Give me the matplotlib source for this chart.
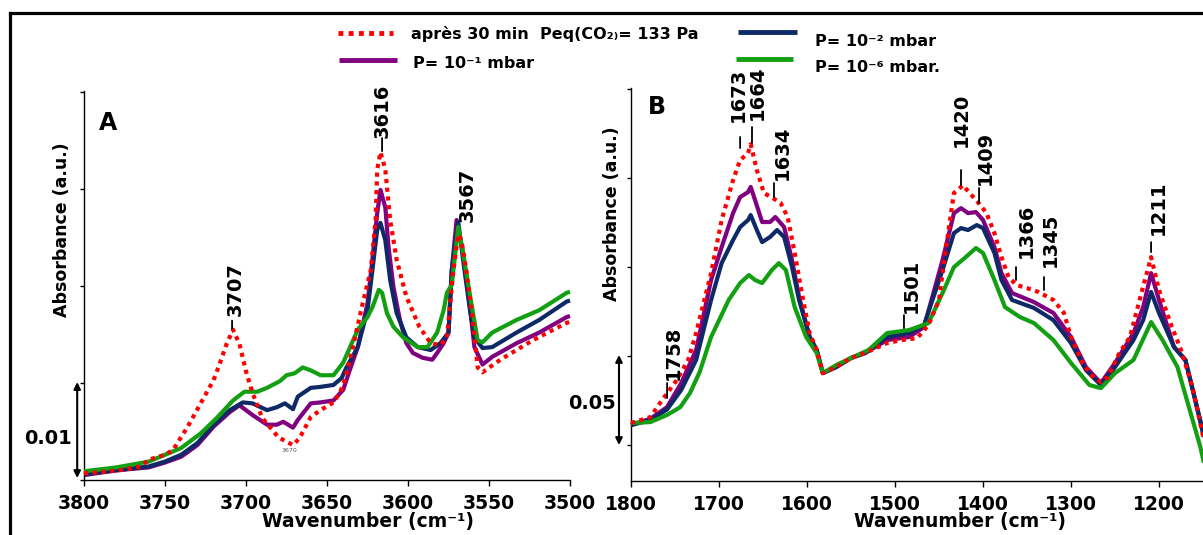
import matplotlib
matplotlib.use('Agg')
import matplotlib.pyplot as plt
from matplotlib.lines import Line2D

plt.rcParams['font.family'] = ['DejaVu Sans']

# ---------------- DATA ----------------
# Panel A (OH region)
a_red_wn = [3800, 3790, 3778, 3765, 3760, 3750, 3745, 3736, 3728, 3720, 3716, 3712, 3708, 3704, 3700, 3696, 3690, 3680, 3671, 3667, 3660, 3654, 3646, 3642, 3639, 3634, 3628, 3623, 3620, 3619, 3617, 3614, 3611, 3607, 3601, 3593, 3586, 3580, 3576, 3572, 3569, 3567, 3564, 3560, 3557, 3554, 3543, 3523, 3502, 3500]
a_red_abs = [0.0007, 0.0008, 0.0010, 0.0014, 0.0021, 0.0026, 0.0031, 0.0055, 0.0079, 0.0103, 0.0121, 0.0140, 0.0155, 0.0140, 0.0112, 0.0090, 0.0064, 0.0044, 0.0036, 0.0043, 0.0065, 0.0072, 0.0080, 0.0090, 0.0103, 0.0137, 0.0182, 0.0216, 0.0268, 0.0320, 0.0338, 0.0320, 0.0268, 0.0227, 0.0189, 0.0158, 0.0141, 0.0139, 0.0147, 0.0216, 0.0253, 0.0247, 0.0216, 0.0165, 0.0116, 0.0111, 0.0124, 0.0144, 0.0162, 0.0163]

a_pur_wn = [3800, 3780, 3760, 3750, 3740, 3730, 3720, 3710, 3704, 3696, 3687, 3681, 3677, 3671, 3668, 3660, 3654, 3646, 3640, 3636, 3631, 3625, 3622, 3619, 3617, 3614, 3612, 3609, 3605, 3601, 3597, 3591, 3585, 3582, 3578, 3575, 3573, 3570, 3566, 3562, 3559, 3554, 3548, 3533, 3519, 3502, 3500]
a_pur_abs = [0.0005, 0.0010, 0.0013, 0.0018, 0.0024, 0.0036, 0.0055, 0.0070, 0.0077, 0.0067, 0.0057, 0.0057, 0.0060, 0.0054, 0.0062, 0.0079, 0.0080, 0.0082, 0.0093, 0.0113, 0.0137, 0.0182, 0.0227, 0.0275, 0.0299, 0.0281, 0.0240, 0.0199, 0.0165, 0.0141, 0.0131, 0.0126, 0.0124, 0.0131, 0.0141, 0.0152, 0.0216, 0.0268, 0.0234, 0.0182, 0.0137, 0.0119, 0.0127, 0.0141, 0.0152, 0.0168, 0.0169]

a_nav_wn = [3800, 3780, 3760, 3750, 3740, 3730, 3720, 3710, 3702, 3696, 3687, 3681, 3676, 3671, 3668, 3660, 3654, 3646, 3641, 3638, 3631, 3625, 3622, 3619, 3617, 3614, 3611, 3607, 3601, 3594, 3586, 3580, 3575, 3573, 3569, 3566, 3562, 3559, 3554, 3548, 3533, 3519, 3502, 3500]
a_nav_abs = [0.0006, 0.0010, 0.0014, 0.0019, 0.0026, 0.0038, 0.0057, 0.0072, 0.0080, 0.0079, 0.0072, 0.0075, 0.0079, 0.0073, 0.0086, 0.0095, 0.0096, 0.0098, 0.0105, 0.0116, 0.0137, 0.0175, 0.0216, 0.0258, 0.0265, 0.0247, 0.0206, 0.0172, 0.0147, 0.0137, 0.0134, 0.0141, 0.0152, 0.0216, 0.0266, 0.0227, 0.0178, 0.0147, 0.0136, 0.0137, 0.0152, 0.0165, 0.0184, 0.0185]

a_grn_wn = [3800, 3780, 3760, 3750, 3740, 3728, 3718, 3708, 3701, 3693, 3687, 3679, 3675, 3670, 3665, 3660, 3654, 3646, 3640, 3631, 3625, 3622, 3618, 3616, 3613, 3609, 3603, 3594, 3588, 3582, 3578, 3576, 3573, 3569, 3566, 3562, 3557, 3554, 3548, 3533, 3519, 3502, 3500]
a_grn_abs = [0.0009, 0.0013, 0.0019, 0.0026, 0.0033, 0.0048, 0.0064, 0.0082, 0.0091, 0.0091, 0.0095, 0.0102, 0.0108, 0.0110, 0.0116, 0.0113, 0.0108, 0.0108, 0.0121, 0.0155, 0.0168, 0.0178, 0.0196, 0.0193, 0.0172, 0.0158, 0.0147, 0.0137, 0.0137, 0.0152, 0.0175, 0.0193, 0.0201, 0.0261, 0.0234, 0.0193, 0.0144, 0.0142, 0.0152, 0.0165, 0.0175, 0.0193, 0.0194]

# Panel B (carbonate region)
b_red_wn = [1800, 1778, 1767, 1748, 1735, 1726, 1709, 1697, 1684, 1676, 1667, 1664, 1657, 1649, 1639, 1630, 1622, 1614, 1605, 1597, 1589, 1582, 1567, 1550, 1534, 1509, 1492, 1475, 1462, 1450, 1442, 1433, 1425, 1423, 1413, 1405, 1396, 1387, 1379, 1371, 1362, 1350, 1337, 1320, 1308, 1300, 1287, 1275, 1266, 1258, 1245, 1233, 1220, 1209, 1200, 1187, 1175, 1162, 1149]
b_red_abs = [0.0124, 0.0157, 0.0236, 0.0365, 0.0478, 0.0629, 0.0966, 0.1264, 0.1489, 0.1601, 0.1640, 0.1690, 0.1545, 0.1416, 0.1388, 0.1360, 0.1281, 0.1079, 0.0831, 0.0629, 0.0534, 0.0404, 0.0438, 0.0489, 0.0517, 0.0573, 0.0590, 0.0600, 0.0674, 0.0815, 0.1112, 0.1416, 0.1450, 0.1460, 0.1404, 0.1360, 0.1303, 0.1190, 0.1056, 0.0944, 0.0899, 0.0882, 0.0860, 0.0815, 0.0742, 0.0607, 0.0461, 0.0382, 0.0354, 0.0382, 0.0517, 0.0607, 0.0854, 0.1056, 0.0871, 0.0685, 0.0534, 0.0326, 0.0028]

b_pur_wn = [1800, 1778, 1759, 1743, 1726, 1709, 1697, 1684, 1676, 1667, 1664, 1659, 1651, 1642, 1636, 1626, 1617, 1609, 1597, 1589, 1582, 1567, 1550, 1534, 1509, 1484, 1467, 1446, 1433, 1425, 1417, 1408, 1400, 1387, 1379, 1367, 1342, 1320, 1300, 1283, 1266, 1250, 1229, 1218, 1209, 1200, 1183, 1170, 1158, 1149]
b_pur_abs = [0.0112, 0.0148, 0.0213, 0.0348, 0.0534, 0.0927, 0.1112, 0.1303, 0.1393, 0.1421, 0.1450, 0.1376, 0.1253, 0.1253, 0.1281, 0.1225, 0.1039, 0.0831, 0.0607, 0.0534, 0.0404, 0.0438, 0.0489, 0.0517, 0.0590, 0.0607, 0.0663, 0.1039, 0.1303, 0.1331, 0.1303, 0.1309, 0.1264, 0.1112, 0.0966, 0.0854, 0.0803, 0.0742, 0.0607, 0.0438, 0.0348, 0.0461, 0.0629, 0.0775, 0.0966, 0.0815, 0.0551, 0.0478, 0.0236, 0.0045]

b_nav_wn = [1800, 1778, 1759, 1743, 1726, 1709, 1697, 1684, 1676, 1667, 1664, 1657, 1651, 1642, 1634, 1626, 1617, 1609, 1597, 1589, 1582, 1567, 1550, 1534, 1509, 1484, 1467, 1446, 1433, 1425, 1417, 1407, 1400, 1387, 1379, 1367, 1342, 1320, 1300, 1283, 1266, 1250, 1229, 1218, 1209, 1200, 1183, 1170, 1158, 1149]
b_nav_abs = [0.0112, 0.0140, 0.0200, 0.0309, 0.0478, 0.0815, 0.1022, 0.1152, 0.1225, 0.1264, 0.1292, 0.1208, 0.1140, 0.1169, 0.1208, 0.1169, 0.1000, 0.0815, 0.0607, 0.0534, 0.0404, 0.0438, 0.0489, 0.0517, 0.0607, 0.0629, 0.0674, 0.0983, 0.1191, 0.1219, 0.1208, 0.1236, 0.1219, 0.1079, 0.0927, 0.0815, 0.0770, 0.0702, 0.0573, 0.0421, 0.0337, 0.0438, 0.0590, 0.0702, 0.0860, 0.0742, 0.0551, 0.0478, 0.0236, 0.0056]

b_grn_wn = [1800, 1778, 1759, 1744, 1733, 1722, 1709, 1689, 1676, 1666, 1659, 1651, 1640, 1632, 1624, 1614, 1601, 1589, 1582, 1567, 1550, 1530, 1509, 1484, 1462, 1446, 1433, 1421, 1408, 1400, 1387, 1375, 1358, 1342, 1320, 1300, 1279, 1266, 1250, 1229, 1209, 1196, 1179, 1166, 1153, 1149]
b_grn_abs = [0.0124, 0.0129, 0.0169, 0.0213, 0.0292, 0.0410, 0.0607, 0.0815, 0.0910, 0.0955, 0.0927, 0.0910, 0.0983, 0.1022, 0.0983, 0.0775, 0.0607, 0.0517, 0.0404, 0.0449, 0.0489, 0.0534, 0.0629, 0.0646, 0.0685, 0.0854, 0.1000, 0.1050, 0.1107, 0.1079, 0.0927, 0.0775, 0.0719, 0.0685, 0.0590, 0.0461, 0.0337, 0.0320, 0.0404, 0.0478, 0.0691, 0.0590, 0.0438, 0.0213, -0.0011, -0.0100]

a_xticks = [3800, 3750, 3700, 3650, 3600, 3550, 3500]
b_xticks = [1800, 1700, 1600, 1500, 1400, 1300, 1200]

# peak labels: (text, wavenumber, absorbance anchor, dash length px, gap px, text dx px)
a_peaks = [("3707", 3708.6, 0.0156, 8, 5, 3),
           ("3616", 3616.0, 0.0339, 13, 0, 0),
           ("3567", 3568.5, 0.0266, 0, 0, 8)]
b_peaks = [("1758", 1759.0, 0.0264, 15, 3, 6),
           ("1673", 1676.0, 0.1669, 11, 15, -2),
           ("1664", 1662.5, 0.1697, 16, 7, 5),
           ("1634", 1637.5, 0.1393, 14, 3, 8),
           ("1501", 1489.8, 0.0657, 13, 2, 7),
           ("1420", 1425.0, 0.1461, 15, 23, 0),
           ("1409", 1404.5, 0.1360, 15, 3, 6),
           ("1366", 1362.5, 0.0927, 13, 9, 10),
           ("1345", 1330.7, 0.0871, 13, 10, 6),
           ("1211", 1209.0, 0.1084, 10, 7, 7)]

legend_labels = ["après 30 min  Peq(CO\u2082\u208e= 133 Pa",
                 "P= 10\u207b\u00b9 mbar",
                 "P= 10\u207b\u00b2 mbar",
                 "P= 10\u207b\u2076 mbar."]

C_RED = '#ff0000'
C_PUR = '#800080'
C_NAV = '#0e2a66'
C_GRN = '#12a012'
LW = 3.0

# ---------------- FIGURE ----------------
W, H = 1203, 535
DPI = 100
fig = plt.figure(figsize=(W / DPI, H / DPI), dpi=DPI)


def px_axes(l, t, r, b):
    return fig.add_axes([l / W, 1 - b / H, (r - l) / W, (b - t) / H])


def ftext(x, y, s, **kw):
    return fig.text(x / W, 1 - y / H, s, **kw)


axA = px_axes(84, 91, 570, 480)
axB = px_axes(631, 88, 1203, 481)


def draw(ax, wn, ab, color, z, dotted=False):
    if dotted:
        ax.plot(wn, ab, color=color, lw=LW, linestyle=(0, (1, 1.1)),
                dash_capstyle='butt', zorder=z, clip_on=False)
    else:
        ax.plot(wn, ab, color=color, lw=LW, solid_capstyle='butt',
                solid_joinstyle='round', zorder=z, clip_on=False)


draw(axA, a_pur_wn, a_pur_abs, C_PUR, 2)
draw(axA, a_nav_wn, a_nav_abs, C_NAV, 3)
draw(axA, a_grn_wn, a_grn_abs, C_GRN, 4)
draw(axA, a_red_wn, a_red_abs, C_RED, 5, dotted=True)

draw(axB, b_pur_wn, b_pur_abs, C_PUR, 2)
draw(axB, b_nav_wn, b_nav_abs, C_NAV, 3)
draw(axB, b_grn_wn, b_grn_abs, C_GRN, 4)
draw(axB, b_red_wn, b_red_abs, C_RED, 5, dotted=True)

axA.set_xlim(3800, 3500)
axA.set_ylim(0, 0.0401)
axA.set_yticks([0, 0.01, 0.02, 0.03, 0.04])
axB.set_xlim(1800, 1150)
axB.set_ylim(-0.0202, 0.2006)
axB.set_yticks([0, 0.05, 0.10, 0.15, 0.20])

for ax, xt in ((axA, a_xticks), (axB, b_xticks)):
    ax.set_xticks(xt)
    ax.set_xticklabels([str(v) for v in xt], fontsize=13.5, fontweight='bold')
    ax.set_yticklabels([])
    ax.tick_params(axis='x', direction='out', length=4, width=1, pad=6)
    ax.tick_params(axis='y', direction='out', length=3, width=1)
    for s in ('top', 'right'):
        ax.spines[s].set_visible(False)
    for s in ('left', 'bottom'):
        ax.spines[s].set_linewidth(1)
    ax.patch.set_alpha(0)


def peak(ax, label, wn, ab, dash, gap, dx):
    if dash > 0:
        ax.annotate('', xy=(wn, ab), xytext=(0, dash), textcoords='offset pixels',
                    arrowprops=dict(arrowstyle='-', lw=1.3, color='black',
                                    shrinkA=0, shrinkB=0), zorder=6)
    ax.annotate(label, xy=(wn, ab), xytext=(dx, dash + gap), textcoords='offset pixels',
                rotation=90, ha='center', va='bottom', fontsize=14,
                fontweight='bold', zorder=6, annotation_clip=False)


for p in a_peaks:
    peak(axA, *p)
for p in b_peaks:
    peak(axB, *p)

axA.text(3673.5, 0.0030, "3670", fontsize=4.5, color='#555555', ha='center', va='center')

# panel letters
axA.text(0.049, 0.918, "A", transform=axA.transAxes, fontsize=17, fontweight='bold',
         ha='center', va='center')
axB.text(0.045, 0.952, "B", transform=axB.transAxes, fontsize=17, fontweight='bold',
         ha='center', va='center')

# scale bars
axA.annotate('', xy=(-0.014, 0.0002), xytext=(-0.014, 0.0101),
             xycoords=('axes fraction', 'data'), textcoords=('axes fraction', 'data'),
             arrowprops=dict(arrowstyle='<|-|>', lw=1.5, color='black',
                             mutation_scale=10, shrinkA=0, shrinkB=0))
axA.text(-0.074, 0.0043, "0.01", transform=axA.get_yaxis_transform(),
         fontsize=14, fontweight='bold', ha='center', va='center')
axB.annotate('', xy=(-0.021, 0.0), xytext=(-0.021, 0.0506),
             xycoords=('axes fraction', 'data'), textcoords=('axes fraction', 'data'),
             arrowprops=dict(arrowstyle='<|-|>', lw=1.5, color='black',
                             mutation_scale=10, shrinkA=0, shrinkB=0))
axB.text(-0.068, 0.0236, "0.05", transform=axB.get_yaxis_transform(),
         fontsize=14, fontweight='bold', ha='center', va='center')

# axis titles
ftext(368, 521, "Wavenumber (cm\u207b\u00b9)", fontsize=13.5, fontweight='bold',
      ha='center', va='center')
ftext(960, 521, "Wavenumber (cm\u207b\u00b9)", fontsize=13.5, fontweight='bold',
      ha='center', va='center')
ftext(62, 230, "Absorbance (a.u.)", fontsize=12.5, fontweight='bold',
      rotation=90, ha='center', va='center')
ftext(612, 214, "Absorbance (a.u.)", fontsize=12.5, fontweight='bold',
      rotation=90, ha='center', va='center')

# legend (manual)
leg = [(338, 393, 33, C_RED, True, 411, 34, legend_labels[0]),
       (339, 397, 60, C_PUR, False, 413, 64, legend_labels[1]),
       (738, 797, 32, C_NAV, False, 815, 41, legend_labels[2]),
       (736, 793, 59, C_GRN, False, 815, 67, legend_labels[3])]
for x0, x1, y, c, dotted, tx, ty, lab in leg:
    ln = Line2D([x0 / W, x1 / W], [1 - y / H, 1 - y / H], transform=fig.transFigure,
                color=c, lw=3.5, linestyle=(0, (1, 1.1)) if dotted else '-',
                solid_capstyle='butt', dash_capstyle='butt')
    fig.add_artist(ln)
    ftext(tx, ty, lab, fontsize=11.5, fontweight='bold', ha='left', va='center')

# outer frame
fig.add_artist(Line2D([9.5 / W, 9.5 / W], [0, 1 - 12.5 / H], transform=fig.transFigure,
                      color='black', lw=2.3, solid_capstyle='projecting'))
fig.add_artist(Line2D([9.5 / W, 1.0], [1 - 12.5 / H, 1 - 12.5 / H], transform=fig.transFigure,
                      color='black', lw=2.3, solid_capstyle='projecting'))

fig.savefig('out.png', dpi=DPI)
